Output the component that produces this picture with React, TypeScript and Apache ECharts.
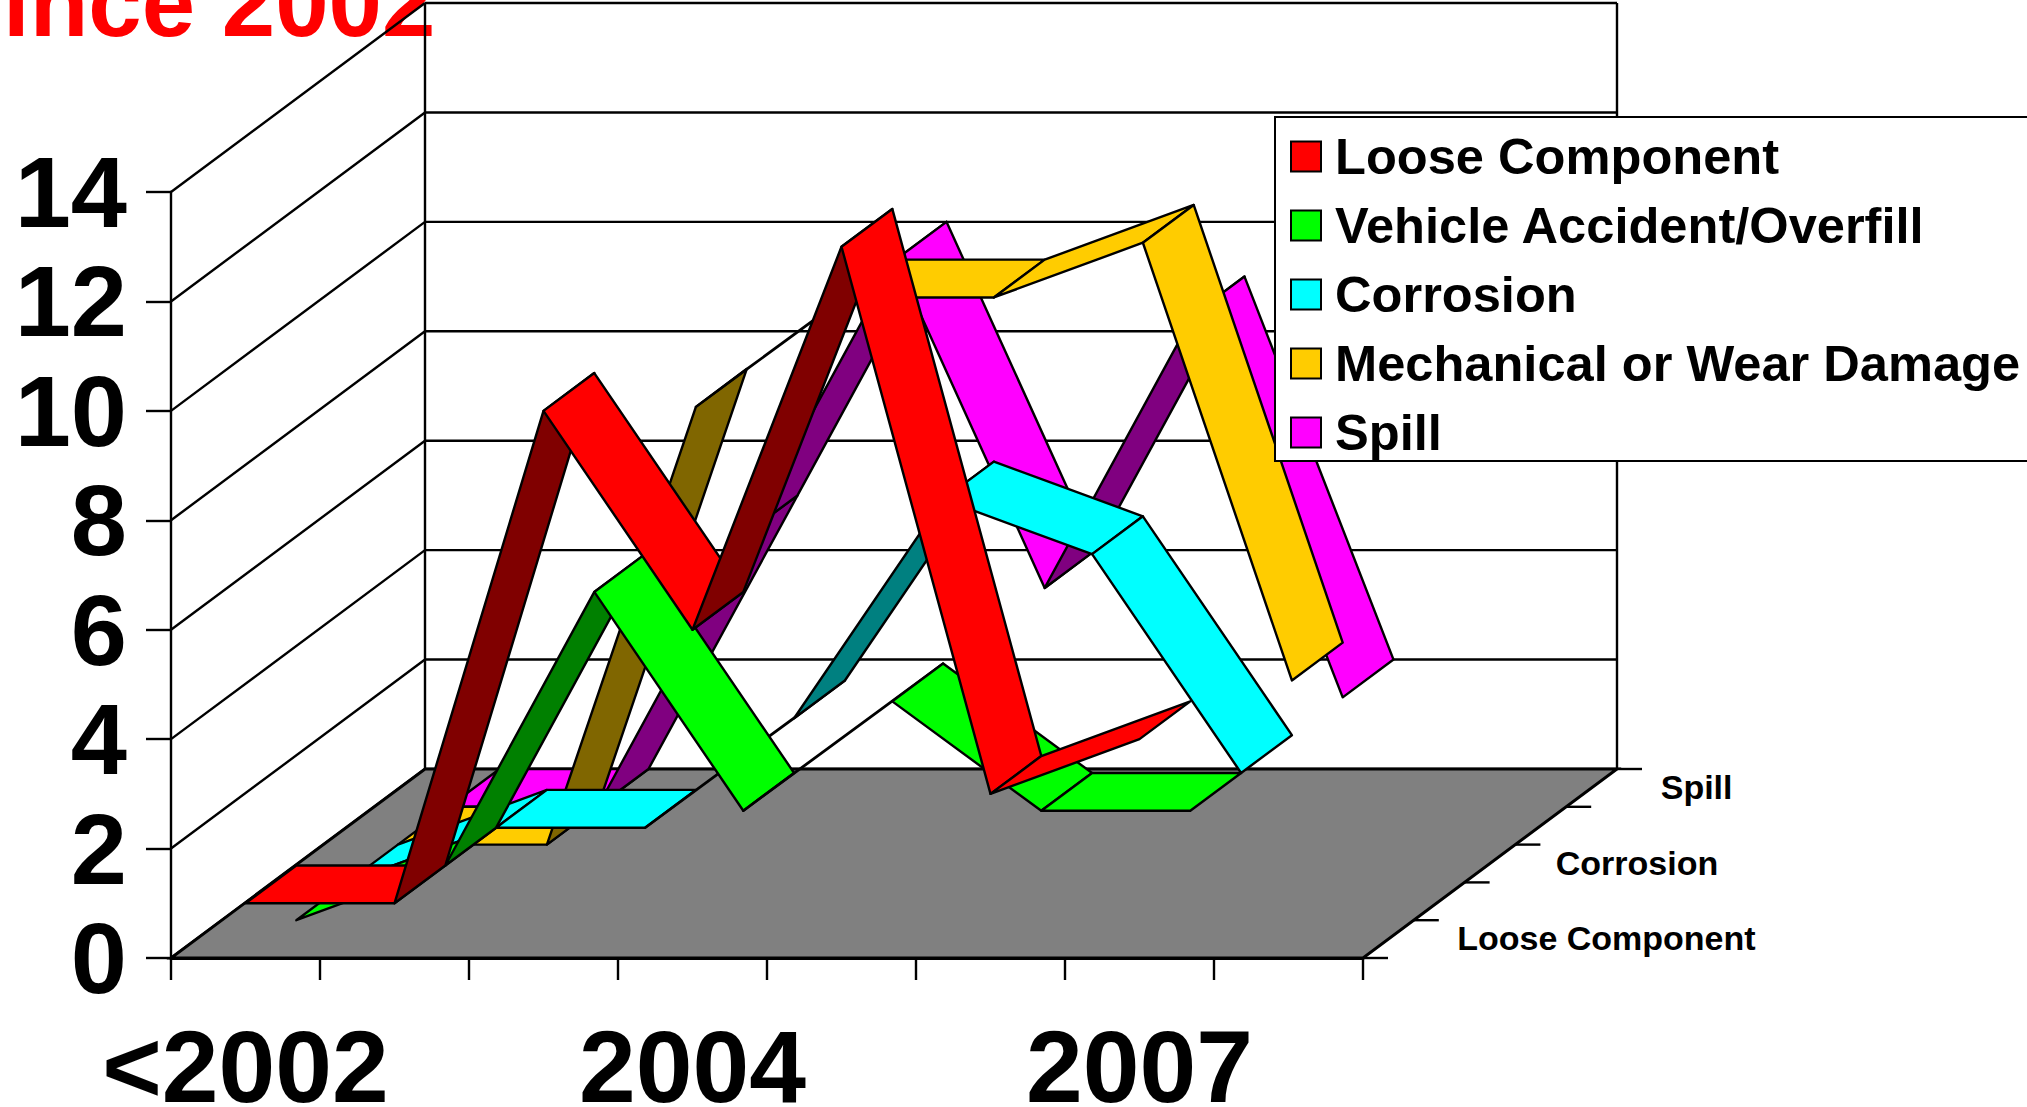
import React, { useEffect, useRef } from "react";
import * as echarts from "echarts";

const categories = ["<2002", "2002", "2003", "2004", "2005", "2006", "2007", "2008"];
const yTicks = [0, 2, 4, 6, 8, 10, 12, 14];
const depthNames = ["Loose Component", "Vehicle Accident/Overfill", "Corrosion", "Mechanical or Wear Damage", "Spill"];
const depthLabels = ["Loose Component", "", "Corrosion", "", "Spill"];
const depthLabelOffsets = [218, 0, 147, 0, 105];

const looseComponent = [1, 1, 10, 6, 13, 3, 4, null];
const vehicleAccident = [0, 1, 6, 2, 4, 2, 2, null];
const corrosion = [0, 1, 1, 3, 7, 6, 2, null];
const mechanicalWear = [0, 0, 8, 10, 10, 11, 3, null];
const spill = [0, 0, 5, 10, 4, 9, 2, null];

const seriesValues = [looseComponent, vehicleAccident, corrosion, mechanicalWear, spill];
const brightColors = ["#FF0000", "#00FF00", "#00FFFF", "#FFCC00", "#FF00FF"];
const darkColors = ["#800000", "#008000", "#008080", "#806600", "#800080"];

const DEPTH_DX = 254 / 5;
const DEPTH_DY = -189 / 5;
const LINE = { stroke: "#000", lineWidth: 2.4 };
const FONT = '"Liberation Sans", Arial, sans-serif';

function ribbonItem(depth: number) {
  return (params: any, api: any) => {
    const i0 = api.value(0);
    const p0 = api.coord([i0, api.value(1)]);
    const p1 = api.coord([i0 + 1, api.value(2)]);
    const fx = depth * DEPTH_DX, fy = depth * DEPTH_DY;
    const a = [p0[0] + fx, p0[1] + fy];
    const b = [p1[0] + fx, p1[1] + fy];
    const c = [b[0] + DEPTH_DX, b[1] + DEPTH_DY];
    const d = [a[0] + DEPTH_DX, a[1] + DEPTH_DY];
    const cross = (b[0] - a[0]) * DEPTH_DY - (b[1] - a[1]) * DEPTH_DX;
    return {
      type: "polygon",
      shape: { points: [a, b, c, d] },
      style: { fill: cross > 0 ? darkColors[depth] : brightColors[depth], ...LINE, lineJoin: "round" },
    };
  };
}

function segments(values: (number | null)[]) {
  const rows: number[][] = [];
  for (let i = 0; i + 1 < values.length; i++) {
    if (values[i] != null && values[i + 1] != null) rows.push([i, values[i] as number, values[i + 1] as number]);
  }
  return rows;
}

function wallItem(params: any, api: any) {
  const v = api.value(0);
  const cs = params.coordSys;
  const y = api.coord([0, v])[1];
  const left = cs.x, right = cs.x + cs.width;
  const bx = 5 * DEPTH_DX, by = 5 * DEPTH_DY;
  const children: any[] = [
    { type: "line", shape: { x1: left, y1: y, x2: left + bx, y2: y + by }, style: LINE },
    { type: "line", shape: { x1: left + bx, y1: y + by, x2: right + bx, y2: y + by }, style: LINE },
  ];
  if (v === 14) {
    const y0 = api.coord([0, 0])[1];
    children.push({ type: "line", shape: { x1: left + bx, y1: y + by, x2: left + bx, y2: y0 + by }, style: LINE });
    children.push({ type: "line", shape: { x1: right + bx, y1: y + by, x2: right + bx, y2: y0 + by }, style: LINE });
  }
  return { type: "group", children };
}

function floorItem(params: any, api: any) {
  const cs = params.coordSys;
  const y0 = api.coord([0, 0])[1];
  const left = cs.x, right = cs.x + cs.width;
  const bx = 5 * DEPTH_DX, by = 5 * DEPTH_DY;
  const ticks: any[] = [];
  for (let i = 0; i <= 5; i++) {
    const x = right + i * DEPTH_DX, y = y0 + i * DEPTH_DY;
    ticks.push({ type: "line", shape: { x1: x, y1: y, x2: x + 25, y2: y }, style: LINE });
  }
  return {
    type: "group",
    children: [
      { type: "polygon", shape: { points: [[left, y0], [right, y0], [right + bx, y0 + by], [left + bx, y0 + by]] }, style: { fill: "#808080", stroke: "#000", lineWidth: 3 } },
      ...ticks,
    ],
  };
}

function depthLabelItem(params: any, api: any) {
  const cs = params.coordSys;
  const y0 = api.coord([0, 0])[1];
  const i = api.value(0);
  const x = cs.x + cs.width + (i + 0.5) * DEPTH_DX + depthLabelOffsets[i];
  const y = y0 + (i + 0.5) * DEPTH_DY - 1;
  return {
    type: "text",
    x,
    y,
    style: {
      text: depthLabels[i],
      fill: "#000",
      font: `bold 34px ${FONT}`,
      align: "center",
      verticalAlign: "middle",
    },
  };
}

export default function App() {
  const ref = useRef<HTMLDivElement>(null);
  useEffect(() => {
    document.body.style.margin = "0";
    document.body.style.overflow = "hidden";
    const chart = echarts.init(ref.current!, undefined, { renderer: "svg" });
    const ribbons = [4, 3, 2, 1, 0].map((depth) => ({
      type: "custom",
      name: depthNames[depth],
      coordinateSystem: "cartesian2d",
      itemStyle: { color: brightColors[depth] },
      data: segments(seriesValues[depth]),
      encode: { x: 0, y: 1 },
      renderItem: ribbonItem(depth),
      silent: true,
      z: 5,
    }));
    chart.setOption({
      animation: false,
      backgroundColor: "#fff",
      title: {
        text: "Since 2002",
        left: -61,
        top: -46,
        padding: 0,
        z: 1,
        textStyle: { color: "#FF0000", fontSize: 96, fontWeight: "bold", fontFamily: FONT },
      },
      legend: {
        data: depthNames,
        orient: "vertical",
        left: 1275,
        top: 117,
        align: "left",
        icon: "rect",
        itemWidth: 30,
        itemHeight: 30,
        itemGap: 18,
        padding: [14, 20, 3, 15],
        backgroundColor: "#fff",
        borderColor: "#000",
        borderWidth: 2,
        selectedMode: false,
        z: 20,
        itemStyle: { borderColor: "#000", borderWidth: 2 },
        textStyle: { color: "#000", fontSize: 50.6, fontWeight: "bold", fontFamily: FONT, padding: [0, 0, 0, 9] },
      },
      grid: { left: 171, top: 192, width: 1192, height: 766, outerBoundsMode: "none" },
      xAxis: {
        type: "category",
        data: categories,
        axisLine: { show: true, lineStyle: { color: "#000", width: 3 } },
        axisTick: { show: true, interval: 0, length: 22, lineStyle: { color: "#000", width: 2.4 } },
        axisLabel: { interval: 2, color: "#000", fontSize: 102, lineHeight: 76, fontWeight: "bold", fontFamily: FONT, margin: 71 },
        splitLine: { show: false },
      },
      yAxis: {
        type: "value",
        min: 0,
        max: 14,
        interval: 2,
        axisLine: { show: true, lineStyle: { color: "#000", width: 2.4 } },
        axisTick: { show: true, length: 25, lineStyle: { color: "#000", width: 2.4 } },
        axisLabel: { color: "#000", fontSize: 101, fontWeight: "bold", fontFamily: FONT, margin: 44, padding: [0, 0, 5, 0] },
        splitLine: { show: false },
      },
      series: [
        { type: "custom", coordinateSystem: "cartesian2d", data: yTicks.map((v) => [v]), encode: { y: 0 }, renderItem: wallItem, silent: true, z: 2 },
        { type: "custom", coordinateSystem: "cartesian2d", data: [[0]], encode: { y: 0 }, renderItem: floorItem, silent: true, z: 3 },
        { type: "custom", coordinateSystem: "cartesian2d", data: depthLabels.map((_, i) => [i]).filter((r) => depthLabels[r[0]] !== ""), encode: { x: 0 }, renderItem: depthLabelItem, silent: true, z: 3 },
        ...ribbons,
      ],
    });
    return () => chart.dispose();
  }, []);
  return <div ref={ref} style={{ position: "fixed", left: 0, top: 0, width: 2027, height: 1107 }} />;
}
